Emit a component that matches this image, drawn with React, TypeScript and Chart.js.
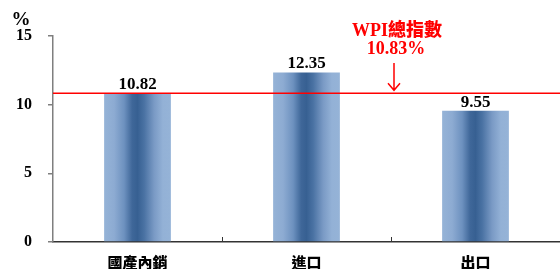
import React, { useEffect, useRef } from "react";
import { Chart, registerables } from "chart.js";

Chart.register(...registerables);

const categories = ["國產內銷", "進口", "出口"];
const values = [10.82, 12.35, 9.55];
const wpiValue = 10.83;
const wpiTitle = "WPI總指數";
const wpiLabel = "10.83%";
const yTicks = [0, 5, 10, 15];
const unitLabel = "%";

const SERIF = '"Liberation Serif", "Times New Roman", serif';
const CJK = '"Noto Sans CJK TC", "Noto Sans CJK SC", sans-serif';
const BAR_PCT = 0.395;

function barGradient(c: any) {
  const chart = c.chart;
  const xs = chart.scales && chart.scales.x;
  if (!xs || !chart.chartArea || c.type !== "data") return "#5a7fb0";
  const cx = xs.getPixelForValue(c.dataIndex);
  const w = (xs.width / categories.length) * BAR_PCT;
  const g = chart.ctx.createLinearGradient(cx - w / 2, 0, cx + w / 2, 0);
  g.addColorStop(0, "#95b3d7");
  g.addColorStop(0.15, "#8dabd2");
  g.addColorStop(0.3, "#6d91bf");
  g.addColorStop(0.42, "#3f6799");
  g.addColorStop(0.5, "#376092");
  g.addColorStop(0.6, "#4a72a3");
  g.addColorStop(0.75, "#7a9ac5");
  g.addColorStop(0.88, "#93b1d6");
  g.addColorStop(1, "#95b3d7");
  return g;
}

const overlayPlugin = {
  id: "overlay",
  afterDatasetsDraw(chart: any) {
    const ctx = chart.ctx;
    const xs = chart.scales.x;
    const ys = chart.scales.y;
    const area = chart.chartArea;
    ctx.save();
    // value labels
    const meta = chart.getDatasetMeta(0);
    ctx.fillStyle = "#000";
    ctx.font = `bold 17px ${SERIF}`;
    ctx.textAlign = "center";
    ctx.textBaseline = "alphabetic";
    meta.data.forEach((el: any, i: number) => {
      ctx.fillText(values[i].toFixed(2), el.x, el.y - 4);
    });
    // WPI line
    const yl = ys.getPixelForValue(wpiValue);
    ctx.strokeStyle = "#ff0000";
    ctx.lineWidth = 1.5;
    ctx.beginPath();
    ctx.moveTo(area.left, yl);
    ctx.lineTo(chart.width, yl);
    ctx.stroke();
    // annotation
    const ax = 394;
    ctx.fillStyle = "#ff0000";
    ctx.font = `900 18px ${SERIF}, ${CJK}`;
    ctx.textBaseline = "middle";
    ctx.fillText(wpiTitle, 397, 31);
    ctx.font = `bold 18px ${SERIF}`;
    ctx.fillText(wpiLabel, 396, 49);
    ctx.beginPath();
    ctx.moveTo(ax, 63);
    ctx.lineTo(ax, yl - 3);
    ctx.moveTo(ax - 6, yl - 10);
    ctx.lineTo(ax, yl - 3);
    ctx.lineTo(ax + 6, yl - 10);
    ctx.stroke();
    // x inner tick marks
    ctx.strokeStyle = "#333";
    ctx.lineWidth = 1;
    for (let i = 1; i < categories.length; i++) {
      const x = Math.round((xs.getPixelForValue(i - 1) + xs.getPixelForValue(i)) / 2) + 0.5;
      ctx.beginPath();
      ctx.moveTo(x, area.bottom - 5);
      ctx.lineTo(x, area.bottom);
      ctx.stroke();
    }
    // unit label
    ctx.fillStyle = "#000";
    ctx.font = `bold 19px ${SERIF}`;
    ctx.textAlign = "center";
    ctx.fillText(unitLabel, 21, 20);
    ctx.restore();
  },
};

export default function App() {
  const ref = useRef<HTMLCanvasElement | null>(null);
  useEffect(() => {
    document.body.style.margin = "0";
    if (!ref.current) return;
    const chart = new Chart(ref.current, {
      type: "bar",
      data: {
        labels: categories,
        datasets: [
          {
            data: values,
            backgroundColor: barGradient as any,
            borderWidth: 0,
            barPercentage: BAR_PCT,
            categoryPercentage: 1,
          },
        ],
      },
      options: {
        animation: false,
        responsive: false,
        devicePixelRatio: 1,
        layout: { padding: { top: 36, right: -9, left: 0, bottom: 0 } },
        plugins: { legend: { display: false }, tooltip: { enabled: false } },
        scales: {
          x: {
            grid: { display: false, drawTicks: false },
            border: { display: true, color: "#333", width: 1.5 },
            ticks: {
              color: "#000",
              font: { family: CJK, size: 15, weight: "900" },
              padding: 11,
            },
            afterFit: (s: any) => {
              s.height = 27;
            },
          },
          y: {
            min: 0,
            max: 15,
            afterBuildTicks: (s: any) => {
              s.ticks = yTicks.map((v) => ({ value: v }));
            },
            grid: {
              drawOnChartArea: false,
              drawTicks: true,
              tickLength: 5,
              color: "#7f7f7f",
              lineWidth: 1.5,
            },
            border: { display: true, color: "#7f7f7f", width: 1.5 },
            ticks: {
              color: "#000",
              font: { family: SERIF, size: 16, weight: "bold" },
              padding: 16,
            },
            afterFit: (s: any) => {
              s.width = 53;
            },
          },
        },
      },
      plugins: [overlayPlugin],
    });
    return () => chart.destroy();
  }, []);
  return (
    <div style={{ position: "absolute", left: 0, top: 0, width: 560, height: 269 }}>
      <canvas ref={ref} width={560} height={269} style={{ width: 560, height: 269 }} />
    </div>
  );
}
